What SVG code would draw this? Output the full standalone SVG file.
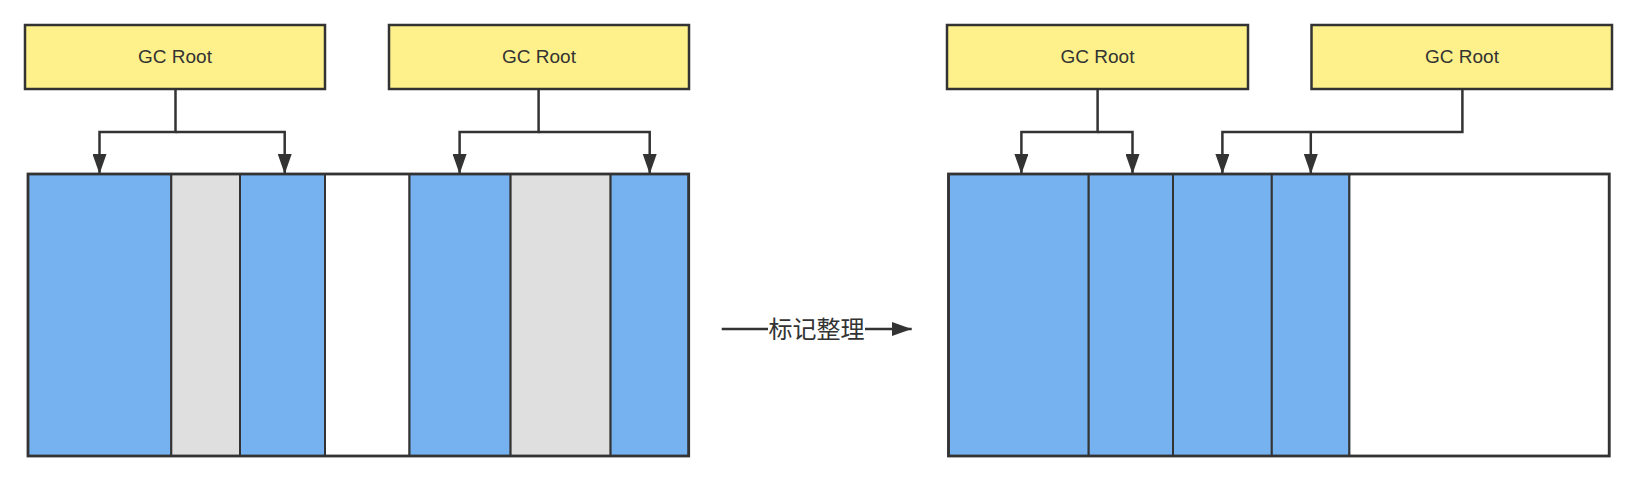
<svg xmlns="http://www.w3.org/2000/svg" width="1638" height="482" viewBox="0 0 1638 482">
<style>
.root{fill:#FEF18B;stroke:#333;stroke-width:2.5}
.blue{fill:#77B2F0;stroke:#333;stroke-width:2}
.gray{fill:#DFDFDF;stroke:#333;stroke-width:2}
.white{fill:#FFFFFF;stroke:#333;stroke-width:2}
.heap{fill:none;stroke:#333;stroke-width:2.8}
.lbl{font-family:"Liberation Sans",Arial,sans-serif;font-size:19px;fill:#333;text-anchor:middle}
.cn{font-family:"Noto Sans CJK SC","Liberation Sans",sans-serif;font-size:24px;fill:#333;text-anchor:middle}
.edge{fill:none;stroke:#333;stroke-width:2.5}
</style>
<defs>
<marker id="ah" markerUnits="userSpaceOnUse" markerWidth="20" markerHeight="14" viewBox="0 0 20 14" refX="20" refY="7" orient="auto">
<path d="M0 0 L20 7 L0 14 Z" fill="#333"/>
</marker>
</defs>
<rect width="1638" height="482" fill="#FFFFFF"/>
<g id="root1"><rect class="root" x="25" y="25" width="300" height="64"/><text class="lbl" x="175" y="63">GC Root</text></g>
<g id="root2"><rect class="root" x="389" y="25" width="300" height="64"/><text class="lbl" x="539" y="63">GC Root</text></g>
<g id="root3"><rect class="root" x="947" y="25" width="301" height="64"/><text class="lbl" x="1097.5" y="63">GC Root</text></g>
<g id="root4"><rect class="root" x="1311.5" y="25" width="300.5" height="64"/><text class="lbl" x="1462" y="63">GC Root</text></g>
<g id="heap-before">
<rect class="blue" x="28" y="174" width="143.3" height="282"/>
<rect class="gray" x="171.3" y="174" width="68.7" height="282"/>
<rect class="blue" x="240" y="174" width="85" height="282"/>
<rect class="white" x="325" y="174" width="84.5" height="282"/>
<rect class="blue" x="409.5" y="174" width="101.1" height="282"/>
<rect class="gray" x="510.6" y="174" width="100" height="282"/>
<rect class="blue" x="610.6" y="174" width="78.1" height="282"/>
<rect class="heap" x="28" y="174" width="660.7" height="282"/>
</g>
<g id="heap-after">
<rect class="blue" x="948.5" y="174" width="140.2" height="282"/>
<rect class="blue" x="1088.7" y="174" width="84.3" height="282"/>
<rect class="blue" x="1173" y="174" width="98.8" height="282"/>
<rect class="blue" x="1271.8" y="174" width="77.6" height="282"/>
<rect class="white" x="1349.4" y="174" width="259.8" height="282"/>
<rect class="heap" x="948.5" y="174" width="660.7" height="282"/>
</g>
<g id="connectors">
<path class="edge" d="M175.5 89 V132 H99.5 V174" marker-end="url(#ah)"/>
<path class="edge" d="M175.5 132 H284.7 V174" marker-end="url(#ah)"/>
<path class="edge" d="M538.6 89 V132 H459.6 V174" marker-end="url(#ah)"/>
<path class="edge" d="M538.6 132 H649.7 V174" marker-end="url(#ah)"/>
<path class="edge" d="M1097.6 89 V132 H1021.4 V174" marker-end="url(#ah)"/>
<path class="edge" d="M1097.6 132 H1132.5 V174" marker-end="url(#ah)"/>
<path class="edge" d="M1462.4 89 V132 H1222.4 V174" marker-end="url(#ah)"/>
<path class="edge" d="M1310.8 132 V174" marker-end="url(#ah)"/>
<path class="edge" d="M721.7 329 H768"/>
<path class="edge" d="M865 329 H911.7" marker-end="url(#ah)"/>
</g>
<g id="label-mark-compact"><text class="cn" x="816.5" y="337.5">标记整理</text></g>
</svg>
